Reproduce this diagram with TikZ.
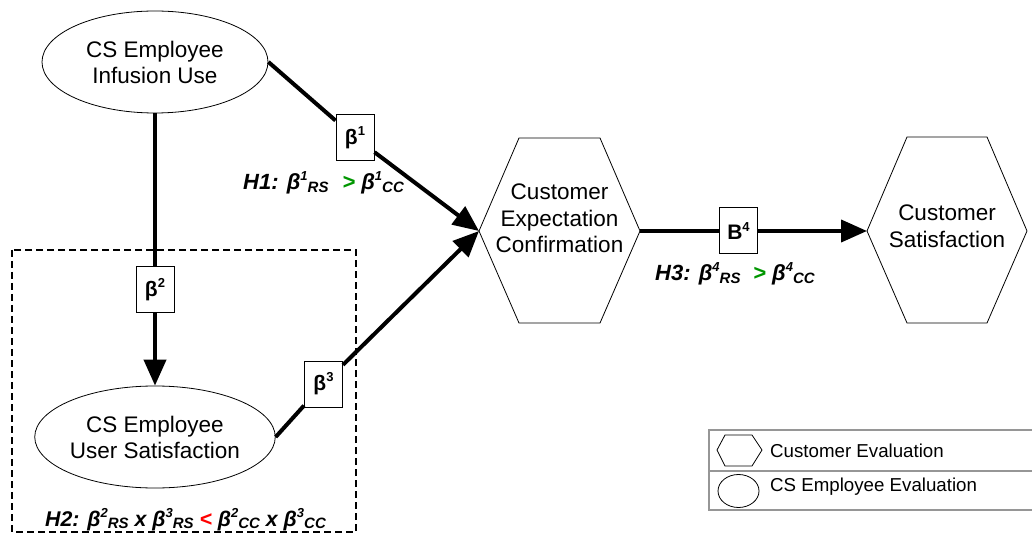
\documentclass[tikz,border=0pt]{standalone}
\usepackage{fontspec}
\setmainfont{Liberation Sans}
\usetikzlibrary{arrows.meta,shapes.geometric}
\definecolor{hgreen}{RGB}{0,150,0}
\definecolor{hred}{RGB}{255,0,0}
\definecolor{lgray}{RGB}{150,150,150}
\newcommand{\supx}[1]{\raisebox{0.42em}{\fontsize{13}{13}\selectfont #1}}
\newcommand{\subx}[1]{\raisebox{-0.12em}{\fontsize{15}{15}\selectfont #1}}
\begin{document}
\begin{tikzpicture}[x=1pt,y=1pt,
  ell/.style={ellipse, draw, line width=0.8pt, inner sep=0pt, minimum width=226pt, minimum height=102pt, align=center, font=\fontsize{22.5}{26}\selectfont},
  hexline/.style={line width=0.8pt, line join=miter},
  hextext/.style={align=center, inner sep=0pt, font=\fontsize{22.5}{26.5}\selectfont},
  coef/.style={draw, fill=white, line width=1pt, minimum width=38pt, minimum height=46pt, inner sep=0pt, font=\fontsize{21}{21}\selectfont\bfseries},
  conn/.style={line width=4pt},
  arr/.style={line width=4pt, -{Triangle[length=26pt,width=22pt]}},
  hyp/.style={anchor=base west, inner sep=0pt, font=\fontsize{22}{22}\selectfont\bfseries\itshape},
  frame/.style={line width=1.6pt, dash pattern=on 7pt off 4pt},
  legline/.style={draw=lgray, line width=1.5pt},
  legtext/.style={anchor=base west, inner sep=0pt, font=\fontsize{18.7}{18.7}\selectfont}
]
\useasboundingbox (0,0) rectangle (1032,533);

% ellipses
\node[ell] (e1) at (155,471) {CS Employee\\Infusion Use};
\node[ell] (e2) at (155,96) {CS Employee\\User Satisfaction};

% hexagon 1
\coordinate (h1L) at (479,302);
\coordinate (h1R) at (640,302);
\draw[hexline] (h1L) -- (519,395) -- (600,395) -- (h1R) -- (600,210) -- (519,210) -- cycle;
\node[hextext] (h1) at (559.5,314.6) {Customer\\Expectation\\Confirmation};

% hexagon 2
\coordinate (h2L) at (867,302);
\coordinate (h2R) at (1027,302);
\draw[hexline] (h2L) -- (907,396) -- (987,396) -- (h2R) -- (987,210) -- (907,210) -- cycle;
\node[hextext] (h2) at (947,306.6) {Customer\\Satisfaction};

% coefficient boxes
\node[coef] (b1) at (355,395.5) {β\supx{1}};
\node[coef] (b2) at (155,243) {β\supx{2}};
\node[coef] (b3) at (323.5,149) {β\supx{3}};
\node[coef] (b4) at (738.5,302) {B\supx{4}};

% connectors
\draw[conn] (e1.east) -- (b1);
\draw[arr] (b1) -- (h1L);
\draw[conn] (e1.south) -- (b2);
\draw[arr] (b2) -- (e2.north);
\draw[conn] (e2.east) -- (b3);
\draw[arr] (b3) -- (h1L);
\draw[conn] (h1R) -- (b4);
\draw[arr] (b4) -- (h2L);

% dashed frame
\draw[frame] (12,283) rectangle (356,1);

% hypotheses
\node[hyp] (t1) at (243,343) {H1: β\supx{1}\subx{RS}\hspace{0.35em} \textcolor{hgreen}{>} β\supx{1}\subx{CC}};
\node[hyp, font=\fontsize{21.3}{21.3}\selectfont\bfseries\itshape] (t2) at (45,7) {H2: β\supx{2}\subx{RS} x β\supx{3}\subx{RS} \textcolor{hred}{<} β\supx{2}\subx{CC} x β\supx{3}\subx{CC}};
\node[hyp] (t3) at (655,252) {H3: β\supx{4}\subx{RS}\hspace{0.3em} \textcolor{hgreen}{>} β\supx{4}\subx{CC}};

% legend
\draw[legline] (709,103) rectangle (1080,23);
\draw[legline] (709,62) -- (1080,62);
\draw[line width=0.8pt] (717,83) -- (725,98) -- (752,98) -- (762,83) -- (752,67) -- (725,67) -- cycle;
\draw[line width=0.8pt] (738.5,42) ellipse [x radius=20.5, y radius=16.5];
\node[legtext] (l1) at (770,76) {Customer Evaluation};
\node[legtext] (l2) at (770,42) {CS Employee Evaluation};
\end{tikzpicture}
\end{document}
